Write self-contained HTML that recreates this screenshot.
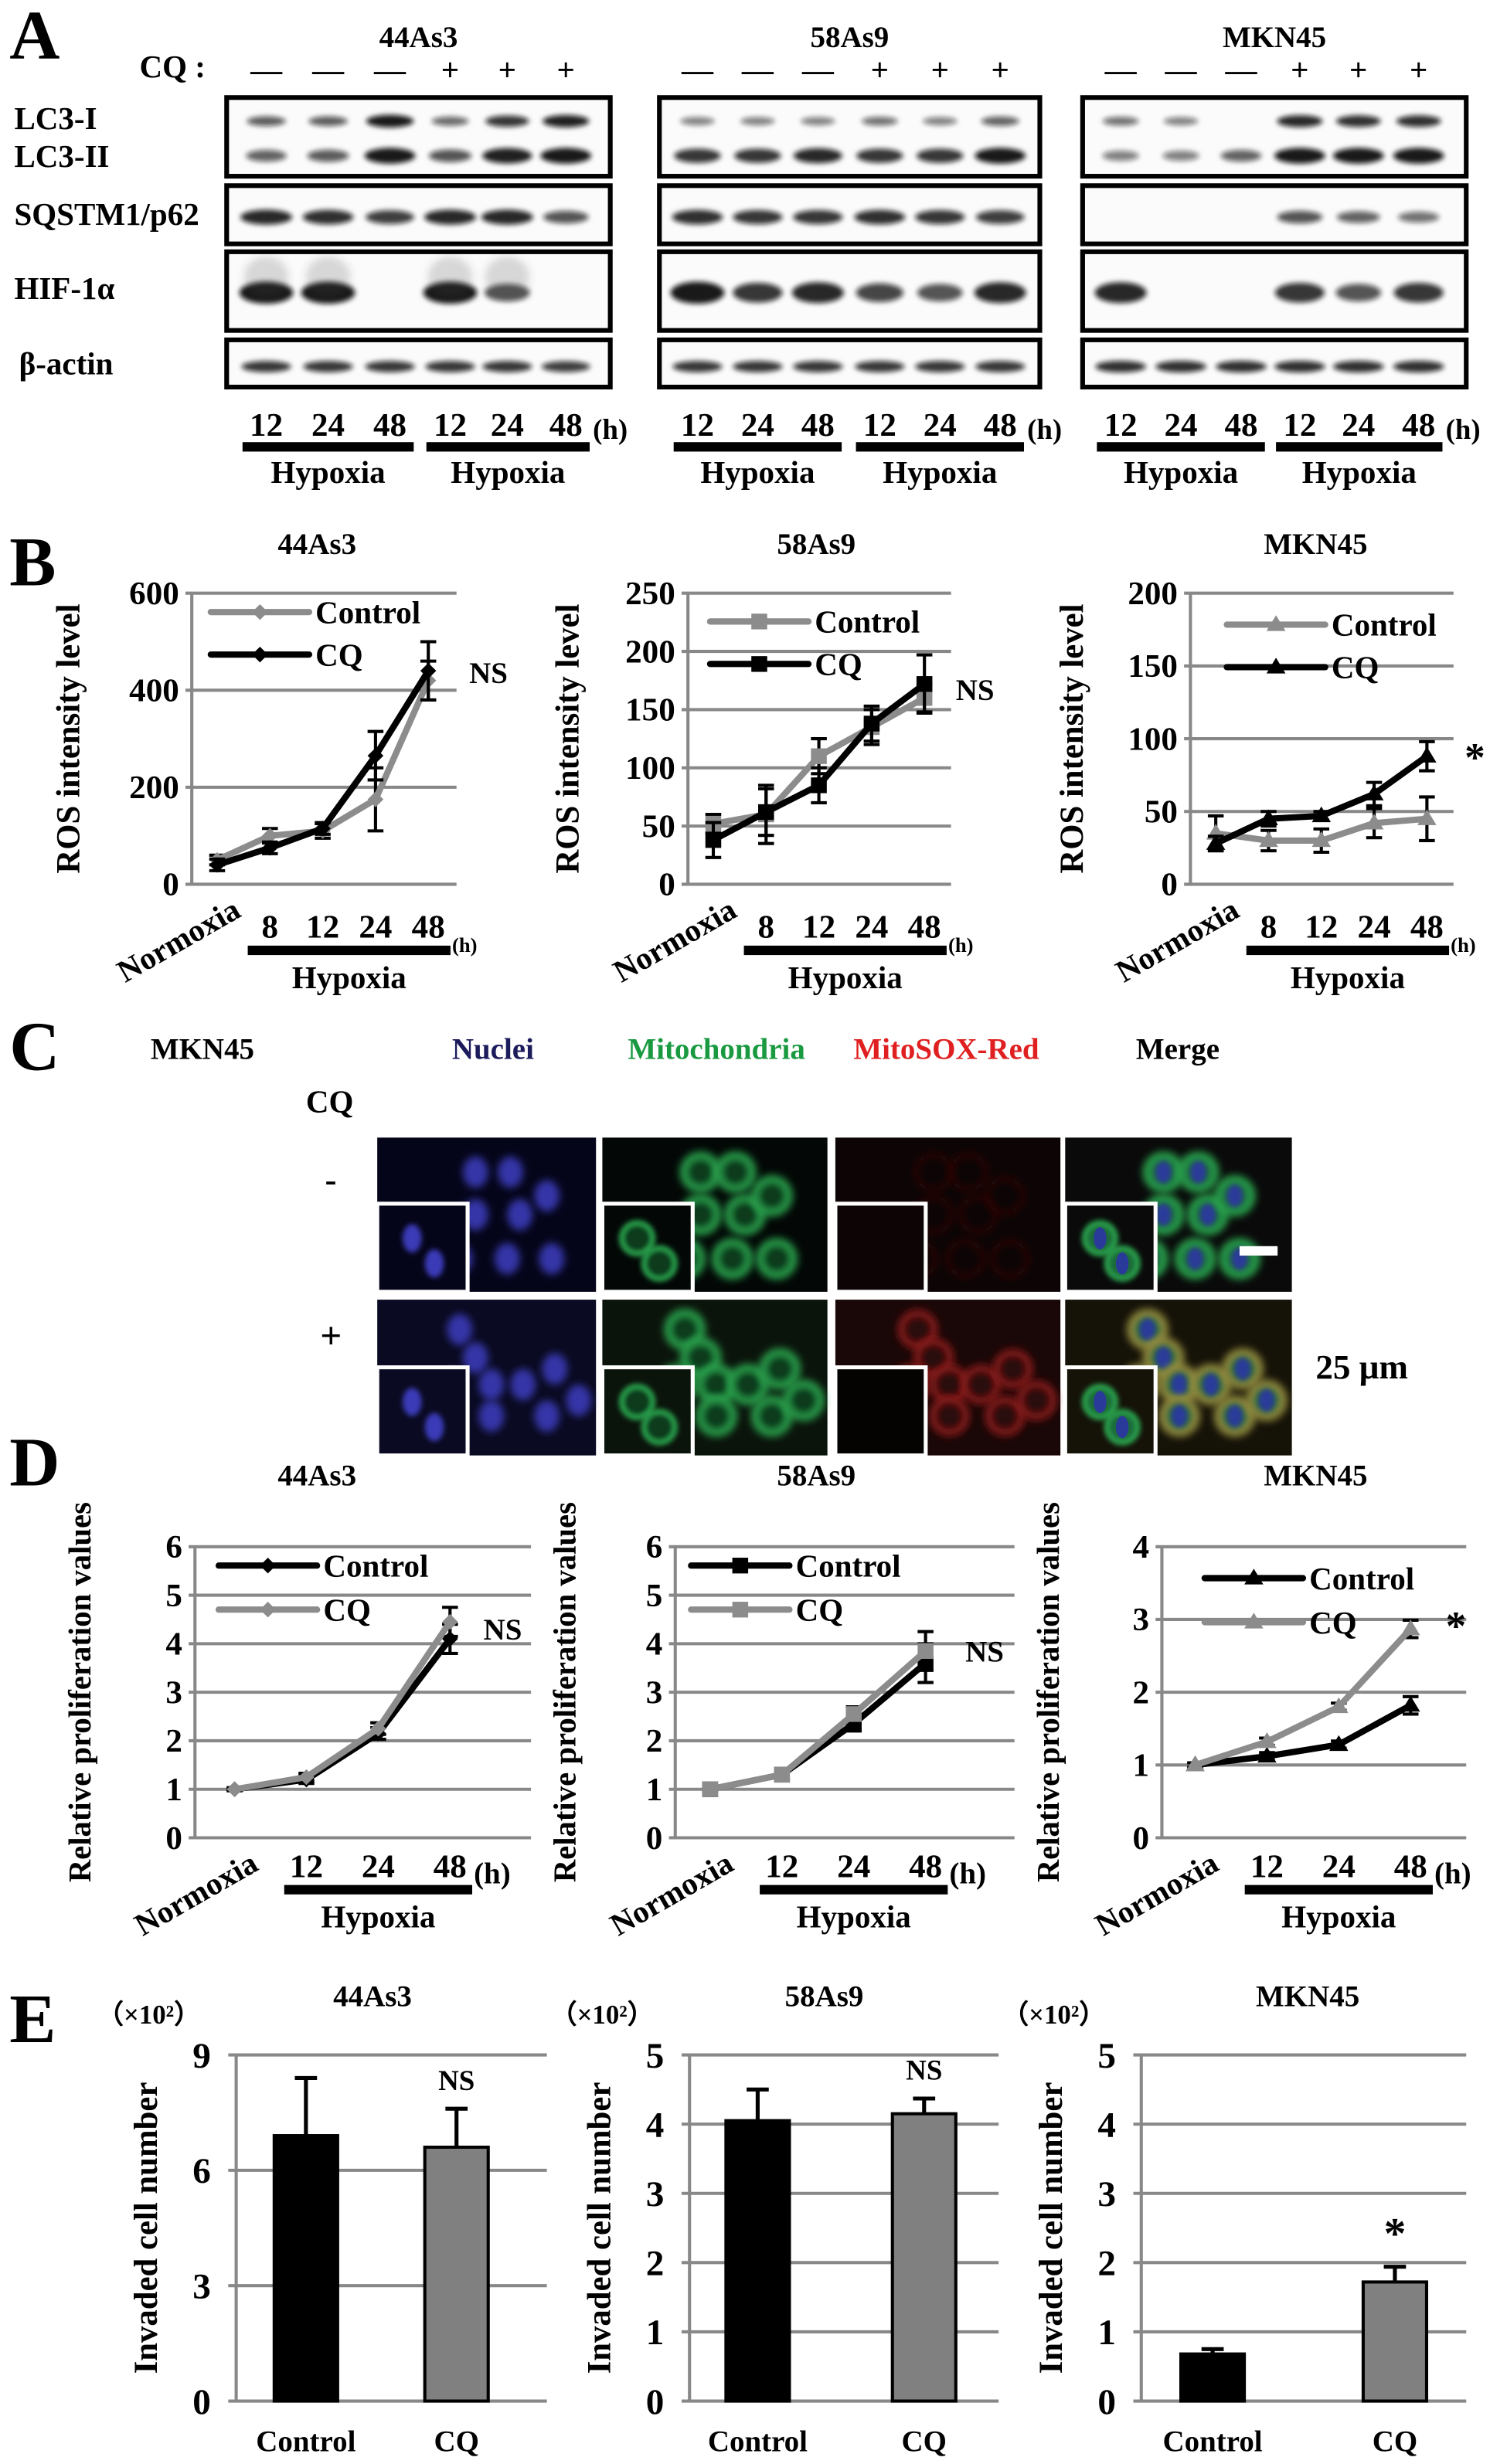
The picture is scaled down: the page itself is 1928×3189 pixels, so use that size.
<!DOCTYPE html>
<html><head><meta charset="utf-8">
<style>
html,body{margin:0;padding:0;background:#fff;}
svg{display:block;}
text{font-family:"Liberation Serif",serif;font-weight:bold;}
</style></head>
<body>
<svg id="fig" xmlns="http://www.w3.org/2000/svg" width="1928" height="3189" viewBox="0 0 940 1566" preserveAspectRatio="none">
<defs>
<filter id="blur1" x="-50%" y="-100%" width="200%" height="300%"><feGaussianBlur stdDeviation="1.6"/></filter>
<filter id="blur3" x="-50%" y="-50%" width="200%" height="200%"><feGaussianBlur stdDeviation="2.5"/></filter>
</defs>
<g id="root"></g>
</svg>
<script>
// ---------- Panel A data (band intensities) ----------
const blotLines = ["44As3","58As9","MKN45"];
const lc3I = [[0.55,0.55,1,0.45,0.8,0.95],[0.3,0.3,0.3,0.4,0.3,0.5],[0.4,0.3,0,0.9,0.85,0.85]];
const lc3II = [[0.5,0.55,1,0.6,0.95,1],[0.8,0.8,0.9,0.8,0.8,1],[0.3,0.3,0.5,1,1,1]];
const p62 = [[0.9,0.85,0.75,0.9,0.9,0.6],[0.85,0.8,0.8,0.85,0.8,0.75],[0,0,0,0.6,0.5,0.4]];
const hif = [[1,1,0,1,0.6,0],[1,0.8,0.9,0.7,0.6,0.9],[0.9,0,0,0.8,0.6,0.8]];
const actin = [[0.8,0.8,0.8,0.8,0.8,0.75],[0.8,0.8,0.8,0.8,0.8,0.8],[0.85,0.85,0.85,0.85,0.85,0.85]];
const blotTimes = ["12","24","48","12","24","48"];
const cqSigns = ["—","—","—","+","+","+"];

// ---------- Panel B data (ROS) ----------
const rosCats = ["Normoxia","8","12","24","48"];
const ros44Ctrl = [50,100,110,175,420];
const ros44CQ = [40,75,115,265,440];
const ros44ErrCtrl = [10,15,15,65,40];
const ros44ErrCQ = [12,12,12,50,60];
const ros58Ctrl = [52,60,110,135,160];
const ros58CQ = [38,62,85,138,172];
const ros58ErrCtrl = [8,25,15,15,12];
const ros58ErrCQ = [15,20,15,15,25];
const rosMKCtrl = [35,30,30,42,45];
const rosMKCQ = [28,45,47,62,88];
const rosMKErrCtrl = [12,7,8,10,15];
const rosMKErrCQ = [5,5,3,8,10];
const ros44Ticks = [0,200,400,600];
const ros58Ticks = [0,50,100,150,200,250];
const rosMKTicks = [0,50,100,150,200];

// ---------- Panel D data (proliferation) ----------
const proCats = ["Normoxia","12","24","48"];
const pro44Ctrl = [1,1.2,2.15,4.1];
const pro44CQ = [1,1.25,2.25,4.45];
const pro44Err = [0.03,0.08,0.12,0.3];
const pro58Ctrl = [1,1.3,2.35,3.6];
const pro58CQ = [1,1.3,2.55,3.85];
const pro58Err = [0.03,0.1,0.15,0.4];
const proMKCtrl = [1,1.12,1.28,1.82];
const proMKCQ = [1,1.32,1.8,2.87];
const proMKErr = [0.03,0.05,0.05,0.12];
const pro6Ticks = [0,1,2,3,4,5,6];
const pro4Ticks = [0,1,2,3,4];

// ---------- Panel E data (invasion) ----------
const invCats = ["Control","CQ"];
const inv44 = [6.9,6.6];
const inv44Err = [1.5,1.0];
const inv58 = [4.05,4.15];
const inv58Err = [0.45,0.22];
const invMK = [0.68,1.72];
const invMKErr = [0.07,0.22];
const inv44Ticks = [0,3,6,9];
const inv5Ticks = [0,1,2,3,4,5];

const NS = "http://www.w3.org/2000/svg";
const root = document.getElementById('root');
function mk(tag, attrs, parent){
  const el = document.createElementNS(NS, tag);
  for (const k in attrs) el.setAttribute(k, attrs[k]);
  (parent||root).appendChild(el);
  return el;
}
function txt(x,y,s,size,extra,parent){
  const el = mk('text', Object.assign({x:x,y:y,'font-size':size,fill:'#000'},extra||{}), parent);
  el.textContent = s;
  return el;
}

// ================= Panel A =================
const pA = mk('g',{});


let t = txt(6,37,"A",44,{'font-weight':'normal'},pA);


t = txt(88,49,"CQ :",20,{},pA);


const rowLabels = [["LC3-I",82],["LC3-II",106],["SQSTM1/p62",143],["HIF-1α",190],["β-actin",238]];
rowLabels.forEach(r=>{
  const e = txt(r[0]==="β-actin"?12:9,r[1],r[0],20,{},pA);
  
  
});
const boxX = [[143,385],[416,656],[683,925]];
const lanesX = [[168,207,246,284,320,357],[440,478,516,555,593,631],[707,745,783,820,857,895]];
const rows = [[62,112],[118,155],[160,210],[216,246]];
blotLines.forEach((name,gi)=>{
  const g = mk('g',{},pA);
  
  
  const cx = (boxX[gi][0]+boxX[gi][1])/2;
  const tt = txt(cx,30,name,19,{'text-anchor':'middle'},g);
  
  
  rows.forEach(r=>{
    const b = mk('rect',{x:boxX[gi][0],y:r[0],width:boxX[gi][1]-boxX[gi][0],height:r[1]-r[0],fill:'#fbfbfb',stroke:'#000','stroke-width':3},g);
    
    
  });
  lanesX[gi].forEach((lx,li)=>{
    const s = txt(lx,51,cqSigns[li],20,{'text-anchor':'middle','font-weight':'normal'},g);
    
    
    const bands = [[lc3I[gi][li],77,4,15],[lc3II[gi][li],99,5,16],[p62[gi][li],138,5,17],[hif[gi][li],186,7,17],[actin[gi][li],233,4,17]];
    bands.forEach(bd=>{
      if (bd[0]<=0) return;
      const e = mk('ellipse',{cx:lx,cy:bd[1],rx:bd[3]*(0.6+0.4*bd[0]),ry:bd[2]*(0.5+0.5*bd[0]),fill:'#111','fill-opacity':0.35+0.6*bd[0],filter:'url(#blur1)'},g);
      
      
    });
    if (hif[gi][li]>0.5 && gi===0){
      const sm = mk('ellipse',{cx:lx,cy:176,rx:14,ry:13,fill:'#444','fill-opacity':0.2,filter:'url(#blur3)'},g);
      
      
    }
    const tl = txt(lx,277,blotTimes[li],21,{'text-anchor':'middle'},g);
    
    
  });
  [[0,2],[3,5]].forEach(p=>{
    const x0 = lanesX[gi][p[0]]-15, x1 = lanesX[gi][p[1]]+15;
    const bar = mk('rect',{x:x0,y:281,width:x1-x0,height:6,fill:'#000'},g);
    
    
    const hl = txt((x0+x1)/2,307,"Hypoxia",20,{'text-anchor':'middle'},g);
    
    
  });
  const h = txt(lanesX[gi][5]+17,279,"(h)",18,{},g);
  
  
});

// ============ generic line chart ============
function lineChart(o){
  const g = mk('g',{});
  
  
  const ymax = o.ticks[o.ticks.length-1];
  const Y = v => o.y1 - (v/ymax)*(o.y1-o.y0);
  const X = i => o.px0 + i*o.step;
  const tt = txt(o.titleX,o.titleY,o.title,19,{'text-anchor':'middle'},g);
  
  
  o.ticks.forEach(tv=>{
    const gl = mk('line',{x1:o.gx0,x2:o.gx1,y1:Y(tv),y2:Y(tv),stroke:'#888','stroke-width':2},g);
    
    
    const tl = txt(o.ax-8,Y(tv)+7,String(tv),21,{'text-anchor':'end'},g);
    
    
  });
  const ax = mk('line',{x1:o.ax,x2:o.ax,y1:o.y0,y2:o.y1,stroke:'#888','stroke-width':2},g);
  
  
  const yt = txt(0,0,o.ytitle,o.ytSize||21,{'text-anchor':'middle',transform:`translate(${o.ytx},${(o.y0+o.y1)/2}) rotate(-90)`},g);
  
  
  o.series.forEach(s=>{
    const sg = mk('g',{},g);
    
    
    s.vals.forEach((v,i)=>{
      const e = s.err[i];
      if (e>0){
        const el = mk('path',{d:`M${X(i)},${Y(v-e)}V${Y(v+e)}M${X(i)-5},${Y(v+e)}h10M${X(i)-5},${Y(v-e)}h10`,stroke:'#000','stroke-width':2,fill:'none'},sg);
        
        
      }
    });
    const d = s.vals.map((v,i)=>(i?'L':'M')+X(i)+','+Y(v)).join('');
    const ln = mk('path',{d:d,stroke:s.color,'stroke-width':4,fill:'none','stroke-linejoin':'round'},sg);
    
    
    s.vals.forEach((v,i)=>{
      const m = marker(X(i),Y(v),o.marker,s.color,sg);
      
      
    });
  });
  o.series.forEach((s,k)=>{
    const ly = o.legY + k*o.legGap;
    const lg = mk('g',{},g);
    
    
    mk('line',{x1:o.legX,x2:o.legX+62,y1:ly,y2:ly,stroke:s.color,'stroke-width':4,'stroke-linecap':'round'},lg);
    marker(o.legX+31,ly,o.marker,s.color,lg);
    txt(o.legX+66,ly+7,s.label,20,{},lg);
  });
  o.cats.forEach((c,i)=>{
    if (i===0){
      const nl = txt(0,0,c,20,{'text-anchor':'end',transform:`translate(${X(0)+16},${o.y1+20}) rotate(-30)`},g);
      
      
    } else {
      const xl = txt(X(i),o.xlabY,c,21,{'text-anchor':'middle'},g);
      
      
    }
  });
  const bx0 = X(1)-14, bx1 = X(o.cats.length-1)+14;
  const hb = mk('rect',{x:bx0,y:o.xlabY+5,width:bx1-bx0,height:6,fill:'#000'},g);
  
  
  const hu = txt(bx1+1,o.xlabY+(o.small?9:4),"(h)",o.small?13:19,{},g);
  
  
  const hl = txt((bx0+bx1)/2,o.xlabY+32,"Hypoxia",20,{'text-anchor':'middle'},g);
  
  
  const sig = txt(o.sigX,o.sigY,o.sig,o.sig==='*'?26:19,{},g);
  
  
  return g;
}
function marker(x,y,type,color,parent){
  if (type==='diamond') return mk('path',{d:`M${x},${y-5}L${x+5},${y}L${x},${y+5}L${x-5},${y}Z`,fill:color},parent);
  if (type==='square') return mk('rect',{x:x-5,y:y-5,width:10,height:10,fill:color},parent);
  return mk('path',{d:`M${x},${y-6}L${x+6},${y+4}L${x-6},${y+4}Z`,fill:color},parent);
}
const GRAY='#8c8c8c';
t = txt(6,372,"B",44,{'font-weight':'normal'});


const bCommon = {y0:377,y1:562,ytitle:"ROS intensity level",xlabY:596,small:true,cats:rosCats,step:33.3,legGap:27};
lineChart(Object.assign({},bCommon,{name:'ros-chart-44as3',title:'44As3',titleX:200,titleY:352,ticks:ros44Ticks,ax:121,gx0:117,gx1:288,px0:137,ytx:50,
  marker:'diamond',legX:133,legY:389,sigX:296,sigY:434,sig:'NS',
  series:[{label:'Control',vals:ros44Ctrl,err:ros44ErrCtrl,color:GRAY},{label:'CQ',vals:ros44CQ,err:ros44ErrCQ,color:'#000'}]}));
lineChart(Object.assign({},bCommon,{name:'ros-chart-58as9',title:'58As9',titleX:515,titleY:352,ticks:ros58Ticks,ax:434,gx0:430,gx1:600,px0:450,ytx:365,
  marker:'square',legX:448,legY:395,sigX:603,sigY:445,sig:'NS',
  series:[{label:'Control',vals:ros58Ctrl,err:ros58ErrCtrl,color:GRAY},{label:'CQ',vals:ros58CQ,err:ros58ErrCQ,color:'#000'}]}));
lineChart(Object.assign({},bCommon,{name:'ros-chart-mkn45',title:'MKN45',titleX:830,titleY:352,ticks:rosMKTicks,ax:751,gx0:747,gx1:917,px0:767,ytx:683,
  marker:'triangle',legX:774,legY:397,sigX:924,sigY:490,sig:'*',
  series:[{label:'Control',vals:rosMKCtrl,err:rosMKErrCtrl,color:GRAY},{label:'CQ',vals:rosMKCQ,err:rosMKErrCQ,color:'#000'}]}));

// ================= Panel C =================
const pC = mk('g',{});


t = txt(6,680,"C",44,{'font-weight':'normal'},pC);


t = txt(95,673,"MKN45",19,{},pC);


const heads = [["Nuclei",311,'#1c1c5c'],["Mitochondria",452,'#1a9a40'],["MitoSOX-Red",597,'#e02020'],["Merge",743,'#000']];
heads.forEach(h=>{
  const e = txt(h[1],673,h[0],19,{'text-anchor':'middle',fill:h[2],style:'fill:'+h[2]},pC);
  
  
});
t = txt(193,707,"CQ",20,{},pC);


t = txt(205,757,"-",22,{'font-weight':'normal'},pC);


t = txt(202,857,"+",24,{'font-weight':'normal'},pC);


const colX = [[238,376],[380,522],[527,669],[672,815]];
const rowY = [[723,821],[826,925]];
const bgs = [['#05051a','#030806','#0d0505','#0a0a0a'],['#0a0a22','#0b140b','#1a0707','#151208']];
const cells1 = [[300,745],[322,745],[300,772],[328,772],[345,760],[320,800],[348,800],[290,800]];
const cells2 = [[290,845],[300,863],[285,880],[310,880],[330,880],[350,870],[310,900],[345,900],[365,890]];
rowY.forEach((ry,ri)=>{
  colX.forEach((cx,ci)=>{
    const g = mk('g',{},pC);
    
    
    mk('rect',{x:cx[0],y:ry[0],width:cx[1]-cx[0],height:ry[1]-ry[0],fill:bgs[ri][ci]},g);
    const cells = ri?cells2:cells1;
    const off = cx[0]-238;
    cells.forEach(c=>{
      const x=c[0]+off, y=c[1];
      if (x>cx[1]-6) return;
      if (ci===0) mk('ellipse',{cx:x,cy:y,rx:8,ry:10,fill:'#3535a8',filter:'url(#blur3)'},g);
      if (ci===1) mk('circle',{cx:x,cy:y,r:11,fill:'#0d3a1e',stroke:'#2aa850','stroke-width':4,filter:'url(#blur3)'},g);
      if (ci===2 && ri===1) mk('circle',{cx:x,cy:y,r:11,fill:'#2a0808',stroke:'#9a1c1c','stroke-width':3,filter:'url(#blur3)'},g);
      if (ci===2 && ri===0) mk('circle',{cx:x,cy:y,r:11,fill:'none',stroke:'#2a0a0a','stroke-width':3,filter:'url(#blur3)'},g);
      if (ci===3){ mk('circle',{cx:x,cy:y,r:11,fill:'#1c6a3a',stroke:ri?'#9a9040':'#2aa850','stroke-width':4,filter:'url(#blur3)'},g);
        mk('ellipse',{cx:x,cy:y,rx:5,ry:7,fill:'#2a3a9a',filter:'url(#blur1)'},g);}
    });
    const ix0 = cx[0], iy0 = ry[1]-56, iw = 57;
    mk('rect',{x:ix0,y:iy0,width:iw,height:56,fill:bgs[ri][ci]==='#1a0707'?'#050202':bgs[ri][ci],stroke:'#fff','stroke-width':2.5},g);
    [[ix0+22,iy0+22],[ix0+36,iy0+38]].forEach(c=>{
      if (ci===0) mk('ellipse',{cx:c[0],cy:c[1],rx:6,ry:9,fill:'#3a3ab8',filter:'url(#blur1)'},g);
      if (ci===1) mk('circle',{cx:c[0],cy:c[1],r:10,fill:'#0d3a1e',stroke:'#2aa850','stroke-width':3,filter:'url(#blur1)'},g);
      if (ci===3){ mk('circle',{cx:c[0],cy:c[1],r:10,fill:'#1c6a3a',stroke:'#2aa850','stroke-width':3,filter:'url(#blur1)'},g);
        mk('ellipse',{cx:c[0],cy:c[1],rx:4,ry:7,fill:'#2a3a9a'},g);}
    });
  });
});
const sb = mk('rect',{x:782,y:792,width:24,height:6,fill:'#fff'},pC);


t = txt(830,876,"25 μm",22,{'font-weight':'normal'},pC);



// ================= Panel D =================
t = txt(6,944,"D",44,{'font-weight':'normal'});


const dCommon = {y0:983,y1:1168,ytitle:"Relative proliferation values",xlabY:1193,small:false,cats:proCats,step:45.3,legGap:28,ytSize:20};
lineChart(Object.assign({},dCommon,{name:'proliferation-chart-44as3',title:'44As3',titleX:200,titleY:944,ticks:pro6Ticks,ax:123,gx0:119,gx1:335,px0:148,ytx:57,
  marker:'diamond',legX:138,legY:995,sigX:305,sigY:1042,sig:'NS',
  series:[{label:'Control',vals:pro44Ctrl,err:pro44Err,color:'#000'},{label:'CQ',vals:pro44CQ,err:pro44Err,color:GRAY}]}));
lineChart(Object.assign({},dCommon,{name:'proliferation-chart-58as9',title:'58As9',titleX:515,titleY:944,ticks:pro6Ticks,ax:426,gx0:422,gx1:640,px0:448,ytx:363,
  marker:'square',legX:436,legY:995,sigX:609,sigY:1056,sig:'NS',
  series:[{label:'Control',vals:pro58Ctrl,err:pro58Err,color:'#000'},{label:'CQ',vals:pro58CQ,err:pro58Err,color:GRAY}]}));
lineChart(Object.assign({},dCommon,{name:'proliferation-chart-mkn45',title:'MKN45',titleX:830,titleY:944,ticks:pro4Ticks,ax:733,gx0:729,gx1:925,px0:754,ytx:668,
  marker:'triangle',legX:760,legY:1003,sigX:912,sigY:1042,sig:'*',
  series:[{label:'Control',vals:proMKCtrl,err:proMKErr,color:'#000'},{label:'CQ',vals:proMKCQ,err:proMKErr,color:GRAY}]}));

// ================= Panel E =================
t = txt(6,1298,"E",44,{'font-weight':'normal'});


function barChart(o){
  const g = mk('g',{});
  
  
  const ymax = o.ticks[o.ticks.length-1];
  const Y = v => o.y1 - (v/ymax)*(o.y1-o.y0);
  const X = i => o.bx0 + i*o.bstep;
  const tt = txt(o.titleX,1275,o.title,19,{'text-anchor':'middle'},g);
  
  
  const un = txt(o.ax-88,1286,"（×10²）",17,{'font-weight':'normal'},g);
  
  
  o.ticks.forEach(tv=>{
    const gl = mk('line',{x1:o.ax-5,x2:o.gx1,y1:Y(tv),y2:Y(tv),stroke:'#888','stroke-width':2},g);
    
    
    const tl = txt(o.ax-16,Y(tv)+8,String(tv),23,{'text-anchor':'end'},g);
    
    
  });
  const ax = mk('line',{x1:o.ax,x2:o.ax,y1:o.y0,y2:o.y1,stroke:'#888','stroke-width':2},g);
  
  
  const yt = txt(0,0,"Invaded cell number",21,{'text-anchor':'middle',transform:`translate(${o.ax-50},${(o.y0+o.y1)/2}) rotate(-90)`},g);
  
  
  o.vals.forEach((v,i)=>{
    const x = X(i);
    const eb = mk('path',{d:`M${x},${Y(v)}V${Y(v+o.err[i])}M${x-7},${Y(v+o.err[i])}h14`,stroke:'#000','stroke-width':2.5,fill:'none'},g);
    
    
    const b = mk('rect',{x:x-20,y:Y(v),width:40,height:o.y1-Y(v),fill:i?'#808080':'#000',stroke:'#000','stroke-width':2},g);
    
    
    const xl = txt(x,1558,invCats[i],19,{'text-anchor':'middle'},g);
    
    
  });
  const sx = X(1);
  const sig = txt(sx,Y(o.vals[1]+o.err[1])-12,o.sig,o.sig==='*'?28:18,{'text-anchor':'middle'},g);
  
  
}
barChart({name:'invasion-chart-44as3',title:'44As3',titleX:235,ticks:inv44Ticks,vals:inv44,err:inv44Err,ax:149,gx1:345,y0:1306,y1:1526,bx0:193,bstep:95,sig:'NS'});
barChart({name:'invasion-chart-58as9',title:'58As9',titleX:520,ticks:inv5Ticks,vals:inv58,err:inv58Err,ax:435,gx1:630,y0:1306,y1:1526,bx0:478,bstep:105,sig:'NS'});
barChart({name:'invasion-chart-mkn45',title:'MKN45',titleX:825,ticks:inv5Ticks,vals:invMK,err:invMKErr,ax:720,gx1:925,y0:1306,y1:1526,bx0:765,bstep:115,sig:'*'});
</script>
</body></html>
